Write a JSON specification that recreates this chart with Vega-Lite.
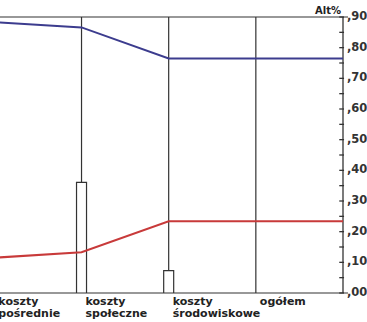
{
  "$schema": "https://vega.github.io/schema/vega-lite/v6.json",
  "width": 348,
  "height": 276,
  "autosize": {"type": "none"},
  "padding": {"left": 0, "top": 17, "right": 19, "bottom": 29},
  "background": "white",
  "config": {"view": {"stroke": null}},
  "datasets": {
    "lines": [
      {"crit": 0, "alt": "A", "value": 0.883},
      {"crit": 1, "alt": "A", "value": 0.866},
      {"crit": 2, "alt": "A", "value": 0.765},
      {"crit": 3, "alt": "A", "value": 0.765},
      {"crit": 4, "alt": "A", "value": 0.765},
      {"crit": 0, "alt": "B", "value": 0.115},
      {"crit": 1, "alt": "B", "value": 0.133},
      {"crit": 2, "alt": "B", "value": 0.234},
      {"crit": 3, "alt": "B", "value": 0.234},
      {"crit": 4, "alt": "B", "value": 0.234}
    ],
    "crits": [
      {"crit": 0, "label": "koszty\npośrednie", "weight": 0.566},
      {"crit": 1, "label": "koszty\nspołeczne", "weight": 0.361},
      {"crit": 2, "label": "koszty\nśrodowiskowe", "weight": 0.073},
      {"crit": 3, "label": "ogółem", "weight": null}
    ],
    "ticks": [
      {"v": 0.0, "lab": ",00"}, {"v": 0.05, "lab": ""},
      {"v": 0.1, "lab": ",10"}, {"v": 0.15, "lab": ""},
      {"v": 0.2, "lab": ",20"}, {"v": 0.25, "lab": ""},
      {"v": 0.3, "lab": ",30"}, {"v": 0.35, "lab": ""},
      {"v": 0.4, "lab": ",40"}, {"v": 0.45, "lab": ""},
      {"v": 0.5, "lab": ",50"}, {"v": 0.55, "lab": ""},
      {"v": 0.6, "lab": ",60"}, {"v": 0.65, "lab": ""},
      {"v": 0.7, "lab": ",70"}, {"v": 0.75, "lab": ""},
      {"v": 0.8, "lab": ",80"}, {"v": 0.85, "lab": ""},
      {"v": 0.9, "lab": ",90"}
    ]
  },
  "encoding": {},
  "layer": [
    {
      "data": {"name": "crits"},
      "mark": {"type": "rule", "color": "#333333", "strokeWidth": 1.2, "clip": true},
      "encoding": {
        "x": {"field": "crit", "type": "quantitative", "scale": {"domain": [0.122, 4], "nice": false, "zero": false}, "axis": null},
        "y": {"datum": 0, "type": "quantitative", "scale": {"domain": [0, 0.9], "nice": false}, "axis": null},
        "y2": {"datum": 0.9}
      }
    },
    {
      "data": {"values": [{"v": 0}, {"v": 0.9}]},
      "mark": {"type": "rule", "color": "#333333", "strokeWidth": 1.2},
      "encoding": {
        "y": {"field": "v", "type": "quantitative"}
      }
    },
    {
      "data": {"values": [{"v": 0}]},
      "mark": {"type": "rule", "color": "#333333", "strokeWidth": 1.3},
      "encoding": {
        "x": {"datum": 4, "type": "quantitative"}
      }
    },
    {
      "data": {"name": "ticks"},
      "mark": {"type": "rule", "color": "#333333", "strokeWidth": 1.3},
      "encoding": {
        "x": {"datum": 3.957, "type": "quantitative"},
        "x2": {"datum": 4.012},
        "y": {"field": "v", "type": "quantitative"}
      }
    },
    {
      "data": {"name": "ticks"},
      "mark": {"type": "text", "align": "left", "baseline": "middle", "dx": 4, "font": "DejaVu Sans", "fontSize": 11.5, "fontWeight": "bold", "color": "#333333"},
      "encoding": {
        "x": {"datum": 4, "type": "quantitative"},
        "y": {"field": "v", "type": "quantitative"},
        "text": {"field": "lab"}
      }
    },
    {
      "data": {"name": "crits"},
      "transform": [{"filter": "datum.weight != null"}],
      "mark": {"type": "bar", "orient": "vertical", "width": 10, "fill": "white", "stroke": "#333333", "strokeWidth": 1.2, "clip": true},
      "encoding": {
        "x": {"field": "crit", "type": "quantitative"},
        "y": {"field": "weight", "type": "quantitative"},
        "y2": {"datum": 0}
      }
    },
    {
      "data": {"name": "lines"},
      "mark": {"type": "line", "strokeWidth": 2, "clip": true},
      "encoding": {
        "x": {"field": "crit", "type": "quantitative"},
        "y": {"field": "value", "type": "quantitative"},
        "color": {"field": "alt", "type": "nominal", "scale": {"domain": ["A", "B"], "range": ["#3c3c8e", "#c83a3a"]}, "legend": null}
      }
    },
    {
      "data": {"name": "crits"},
      "mark": {"type": "text", "align": "left", "baseline": "top", "dx": 4, "dy": 3, "font": "DejaVu Sans", "fontSize": 11, "fontWeight": "bold", "color": "#222222", "lineBreak": "\n", "lineHeight": 12},
      "encoding": {
        "x": {"field": "crit", "type": "quantitative"},
        "y": {"datum": 0, "type": "quantitative"},
        "text": {"field": "label"}
      }
    },
    {
      "data": {"values": [{"t": "Alt%"}]},
      "mark": {"type": "text", "align": "right", "baseline": "alphabetic", "dx": -2, "dy": -3, "font": "DejaVu Sans", "fontSize": 10, "fontWeight": "bold", "color": "#222222"},
      "encoding": {
        "x": {"datum": 4, "type": "quantitative"},
        "y": {"datum": 0.9, "type": "quantitative"},
        "text": {"field": "t"}
      }
    }
  ]
}
